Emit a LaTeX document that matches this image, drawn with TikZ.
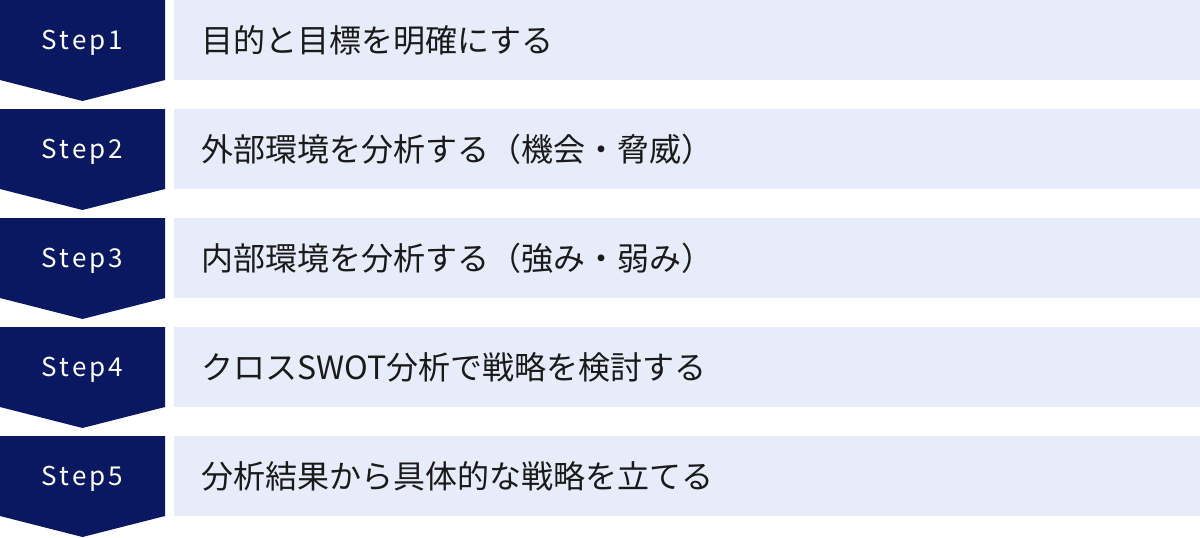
\documentclass[tikz,border=0pt]{standalone}
\usepackage{fontspec}
\setmainfont{Noto Sans CJK JP}
\newfontfamily\stepfont{Noto Sans CJK JP}[LetterSpace=12]
\definecolor{navy}{RGB}{9,24,96}
\definecolor{pale}{RGB}{230,236,249}
\definecolor{ink}{RGB}{26,26,26}
\tikzset{
  chevron/.style={fill=navy,draw=none},
  bar/.style={fill=pale,draw=none},
  steplabel/.style={text=white,font=\stepfont\fontsize{26}{31}\selectfont,anchor=base,inner sep=0pt},
  steptext/.style={text=ink,font=\fontsize{32}{38}\selectfont,anchor=west,inner sep=0pt}
}
\begin{document}
\begin{tikzpicture}[x=1pt,y=-1pt]
\useasboundingbox (0,0) rectangle (1200,538);
\foreach \i/\t in {1/目的と目標を明確にする,2/外部環境を分析する（機会・脅威）,3/内部環境を分析する（強み・弱み）,4/クロスSWOT分析で戦略を検討する,5/分析結果から具体的な戦略を立てる}{
  \pgfmathsetmacro{\top}{(\i-1)*109}
  \fill[chevron] (0,\top) -- (165,\top) -- (165,\top+80) -- (82.5,\top+101) -- (0,\top+80) -- cycle;
  \fill[bar] (174,\top) rectangle (1200,\top+80);
  \node[steplabel] (s\i) at (82.5,\top+49) {Step\i};
  \node[steptext] (t\i) at (201,\top+40) {\t};
}
\end{tikzpicture}
\end{document}
